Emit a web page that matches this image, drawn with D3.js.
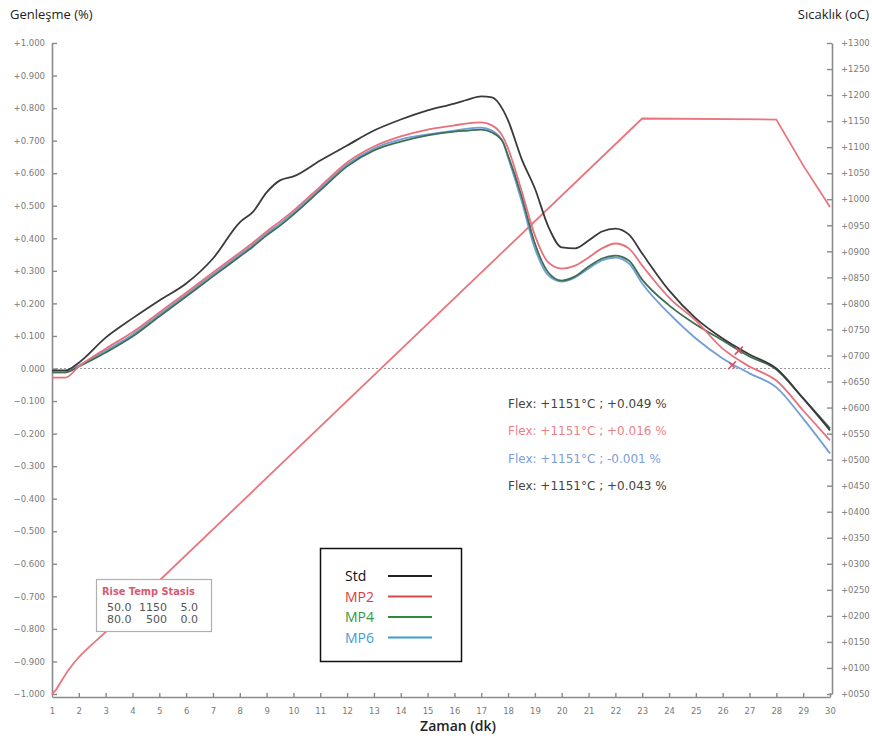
<!DOCTYPE html>
<html><head><meta charset="utf-8">
<script src="https://cdn.jsdelivr.net/npm/d3@7"></script>
<style>body{margin:0;background:#fff}</style>
</head><body>
<svg id="c" width="872" height="740"></svg>
<script>
// ---- data ----
const time = [1, 1.5, 2, 3, 4, 5, 6, 7, 8, 8.5, 9, 9.5, 10, 11, 12, 13, 14, 15, 16, 16.5, 17, 17.4, 17.8, 18, 18.5, 19, 19.5, 20, 20.5, 21, 21.5, 22, 22.5, 23, 24, 25, 26, 27, 28, 29, 30];
const stdVals = [-0.006,-0.006,0.018,0.095,0.154,0.209,0.261,0.338,0.449,0.482,0.541,0.578,0.590,0.639,0.685,0.731,0.765,0.793,0.814,0.826,0.836,0.833,0.796,0.762,0.645,0.553,0.436,0.372,0.369,0.393,0.421,0.430,0.412,0.353,0.240,0.154,0.092,0.043,0.000,-0.092,-0.190];
const mp2Vals = [-0.028,-0.028,0.006,0.061,0.111,0.172,0.233,0.295,0.356,0.387,0.421,0.452,0.485,0.559,0.633,0.682,0.713,0.734,0.747,0.753,0.756,0.747,0.713,0.676,0.547,0.409,0.326,0.307,0.316,0.341,0.369,0.384,0.369,0.316,0.218,0.147,0.061,0.006,-0.037,-0.129,-0.221];
const mp4Vals = [-0.012,-0.012,0.006,0.049,0.098,0.160,0.221,0.283,0.344,0.375,0.409,0.439,0.473,0.547,0.621,0.670,0.697,0.716,0.728,0.731,0.734,0.725,0.697,0.654,0.531,0.384,0.295,0.270,0.283,0.313,0.338,0.347,0.332,0.273,0.194,0.135,0.086,0.037,-0.003,-0.092,-0.184];
const mp6Vals = [-0.012,-0.012,0.009,0.055,0.104,0.166,0.227,0.289,0.350,0.381,0.415,0.445,0.479,0.553,0.627,0.676,0.704,0.719,0.731,0.737,0.740,0.731,0.697,0.648,0.516,0.369,0.286,0.267,0.280,0.307,0.332,0.341,0.323,0.261,0.169,0.092,0.031,-0.015,-0.058,-0.154,-0.261];
const tempTime = [1, 1.15, 1.35, 1.6, 1.85, 2.1, 2.4, 2.7, 3, 23, 28, 29, 30];
const tempVals = [50, 58, 75, 95, 112, 126, 141, 155, 169, 1155, 1153, 1065, 985];
const seriesNames = ["Std", "MP2", "MP4", "MP6"];
const xTicks = d3.range(1, 31);
const leftTicks = d3.range(-10, 11).map(d => d / 10);
const rightTicks = d3.range(50, 1301, 50);
const flexTexts = ["Flex: +1151°C ; +0.049 %", "Flex: +1151°C ; +0.016 %", "Flex: +1151°C ; -0.001 %", "Flex: +1151°C ; +0.043 %"];
const tableHeader = "Rise Temp Stasis";
const tableRows = [["50.0", "1150", "5.0"], ["80.0", "500", "0.0"]];
const markerT = [26.6, 26.35];
const markerV = [0.055, 0.01];

// ---- styles ----
const lineColors = ["#3a3a3a", "#e8707a", "#3f6e52", "#6f9fd8"];
const legendText = ["#111", "#e0383e", "#2f9a3c", "#3d9bd9"];
const legendLine = ["#222", "#d94848", "#2e8a3e", "#3d9bd9"];
const flexColors = ["#444", "#ec8088", "#7b9edb", "#444"];

const svg = d3.select("#c");
const X0 = 52, X1 = 830, Y0 = 43, Y1 = 694;
const x = d3.scaleLinear().domain([1, 30]).range([X0, X1]);
const yL = d3.scaleLinear().domain([-1, 1]).range([Y1, Y0]);
const yR = d3.scaleLinear().domain([50, 1300]).range([Y1, Y0]);
const axisGray = "#8a8a8a";
const tickFont = "DejaVu Sans, Verdana, sans-serif";

// axes
const gL = svg.append("g").attr("transform", `translate(${X0},0)`)
  .call(d3.axisRight(yL).tickValues(leftTicks).tickSize(5).tickSizeOuter(0)
    .tickFormat(d => Math.abs(d) < 1e-9 ? "0.000" : (d > 0 ? "+" : "") + d3.format(".3f")(d)));
gL.selectAll("text").attr("x", -7).attr("text-anchor", "end");
const gR = svg.append("g").attr("transform", `translate(${X1 + 2},0)`)
  .call(d3.axisLeft(yR).tickValues(rightTicks).tickSize(5).tickSizeOuter(0)
    .tickFormat(d => "+" + d3.format("04d")(d)));
gR.selectAll("text").attr("x", 9).attr("text-anchor", "start");
const gX = svg.append("g").attr("transform", `translate(0,${Y1 + 3})`)
  .call(d3.axisTop(x).tickValues(xTicks).tickSize(4).tickSizeOuter(0).tickFormat(d3.format("d")));
gX.selectAll("text").attr("y", 17);
[gL, gR, gX].forEach(g => {
  g.select(".domain").attr("stroke", axisGray).attr("stroke-width", 1.6);
  g.selectAll(".tick line").attr("stroke", axisGray).attr("stroke-width", 1.4);
  g.selectAll("text").attr("fill", "#7a7a7a").style("font-family", tickFont).style("font-size", "8.5px");
});

// zero line
svg.append("line").attr("x1", X0).attr("x2", X1).attr("y1", yL(0)).attr("y2", yL(0))
  .attr("stroke", "#9a9a9a").attr("stroke-width", 1).attr("stroke-dasharray", "2,2");

// temperature line
svg.append("path").datum(tempTime.map((t, i) => [t, tempVals[i]]))
  .attr("fill", "none").attr("stroke", "#e8767c").attr("stroke-width", 1.8)
  .attr("d", d3.line().x(d => x(d[0])).y(d => yR(d[1])).curve(d3.curveLinear));

// dilatation lines (draw order: MP6, MP4, MP2, Std)
const allVals = [stdVals, mp2Vals, mp4Vals, mp6Vals];
const lineGen = d3.line().x(d => x(d[0])).y(d => yL(d[1])).curve(d3.curveMonotoneX);
[3, 2, 1, 0].forEach(i => {
  svg.append("path").datum(time.map((t, j) => [t, allVals[i][j]]))
    .attr("fill", "none").attr("stroke", lineColors[i]).attr("stroke-width", 1.8)
    .attr("d", lineGen);
});

// flex markers
markerT.forEach((t, i) => {
  const cx = x(t), cy = yL(markerV[i]);
  svg.append("path").attr("d", `M${cx-4},${cy+4}L${cx+4},${cy-4}M${cx-3},${cy-3}L${cx+3},${cy+3}`)
    .attr("stroke", "#d85060").attr("stroke-width", 1.6);
});

// titles
const titleFont = "Open Sans, Noto Sans, sans-serif";
svg.append("text").attr("x", 10).attr("y", 19).text("Genleşme (%)")
  .style("font-family", titleFont).style("font-size", "13px").attr("fill", "#222");
svg.append("text").attr("x", 869).attr("y", 19).attr("text-anchor", "end").text("Sıcaklık (oC)")
  .style("font-family", titleFont).style("font-size", "13px").attr("fill", "#222");
svg.append("text").attr("x", 458).attr("y", 731).attr("text-anchor", "middle").text("Zaman (dk)")
  .style("font-family", titleFont).style("font-size", "14px").style("font-weight", "600").attr("fill", "#222");

// flex texts
flexTexts.forEach((s, i) => {
  svg.append("text").attr("x", 508).attr("y", 408 + i * 27.3).text(s)
    .style("font-family", tickFont).style("font-size", "12px").attr("fill", flexColors[i]);
});

// legend
svg.append("rect").attr("x", 320.5).attr("y", 548.5).attr("width", 141).attr("height", 113)
  .attr("fill", "#fff").attr("stroke", "#111").attr("stroke-width", 1.5);
seriesNames.forEach((n, i) => {
  const ly = 576 + i * 20.5;
  svg.append("text").attr("x", 345).attr("y", ly + 5).text(n)
    .style("font-family", titleFont).style("font-size", "14px").attr("fill", legendText[i]);
  svg.append("line").attr("x1", 388).attr("x2", 432).attr("y1", ly).attr("y2", ly)
    .attr("stroke", legendLine[i]).attr("stroke-width", 1.8);
});

// program table
svg.append("rect").attr("x", 96.5).attr("y", 579.5).attr("width", 115).attr("height", 52)
  .attr("fill", "#fff").attr("stroke", "#b0b0b0").attr("stroke-width", 1.2);
svg.append("text").attr("x", 102).attr("y", 595).text(tableHeader)
  .style("font-family", tickFont).style("font-size", "9.8px").style("font-weight", "bold").attr("fill", "#d65a72");
const colX = [107, 167, 198], colAnchor = ["start", "end", "end"];
tableRows.forEach((r, i) => {
  r.forEach((v, j) => {
    svg.append("text").attr("x", colX[j]).attr("y", 611 + i * 12).attr("text-anchor", colAnchor[j]).text(v)
      .style("font-family", tickFont).style("font-size", "11px").attr("fill", "#555");
  });
});
</script>
</body></html>
